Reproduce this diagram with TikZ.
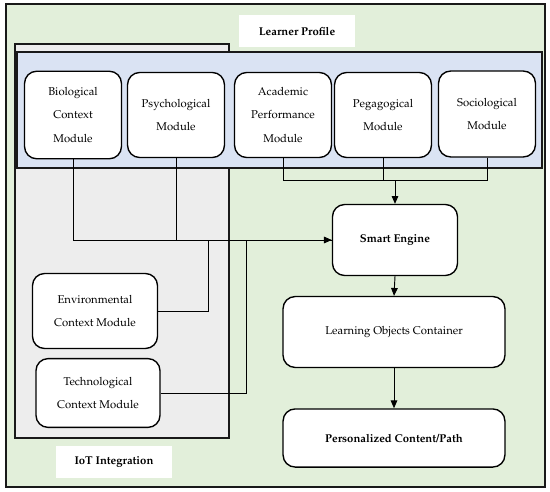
\documentclass[tikz,border=0pt]{standalone}
\usepackage[T1]{fontenc}
\usepackage{mathpazo}
\usetikzlibrary{arrows.meta, positioning, calc}
\usepackage{xcolor}

\definecolor{lpgreen}{HTML}{E2EFDA}
\definecolor{lpblue}{HTML}{DAE3F3}
\definecolor{iotgray}{HTML}{EDEDED}

\tikzset{
  module/.style={draw=black, line width=1.25pt, fill=white, rounded corners=11pt,
    align=center, inner sep=2pt, font=\fontsize{10.3}{21.5}\selectfont},
  panel/.style={draw=black!90, line width=1.6pt},
  tag/.style={fill=white, inner sep=0pt, minimum width=3.74cm, minimum height=1.05cm,
    font=\bfseries\fontsize{10.3}{12}\selectfont},
  link/.style={line width=0.75pt},
  flow/.style={line width=0.85pt, -{Triangle[length=2.5mm,width=2.1mm]}}
}

\begin{document}
\begin{tikzpicture}[x=0.032cm, y=-0.032cm]
\useasboundingbox (0,0) rectangle (550,492);

% -------- Background panels --------
\draw[panel, fill=lpgreen] (6,4) rectangle (545,487);
\draw[panel, fill=iotgray] (15,44) rectangle (229,438);
\draw[panel, fill=lpblue] (17,52) rectangle (542,168);

% -------- Panel titles --------
\node[tag] (profile) at (297,31) {Learner Profile};
\node[tag] (iot) at (114,462) {IoT Integration};

% -------- Learner profile modules --------
\node[module, minimum width=3.1cm, minimum height=2.8cm] (bio) at (73,115)
{Biological\\Context\\Module};
\node[module, minimum width=3.1cm, minimum height=2.72cm] (psych) at (176,115)
{Psychological\\Module};
\node[module, minimum width=3.1cm, minimum height=2.72cm] (acad) at (283,115)
{Academic\\Performance\\Module};
\node[module, minimum width=3.1cm, minimum height=2.72cm] (peda) at (383,115)
{Pegagogical\\Module};
\node[module, minimum width=3.1cm, minimum height=2.75cm] (socio) at (487,114)
{Sociological\\Module};

% -------- IoT modules --------
\node[module, minimum width=4cm, minimum height=2.4cm] (env) at (95,311)
{Environmental\\Context Module};
\node[module, minimum width=3.97cm, minimum height=2.2cm] (tech) at (98,393)
{Technological\\Context Module};

% -------- Engine and outputs --------
\node[module, minimum width=4cm, minimum height=2.27cm, font=\bfseries\fontsize{10.3}{12}\selectfont] (engine) at (395,240)
{Smart Engine};
\node[module, minimum width=7.1cm, minimum height=2.27cm] (loc) at (394,332)
{Learning Objects Container};
\node[module, minimum width=7.1cm, minimum height=1.86cm, font=\bfseries\fontsize{10.3}{12}\selectfont] (path) at (394,438)
{Personalized Content/Path};

% -------- Connectors --------
\coordinate (merge) at (engine.north |- 0,180);
\coordinate (envup) at (208,0 |- engine.west);
\coordinate (techup) at (246,0 |- engine.west);

\draw[link] (acad.south) |- (merge);
\draw[link] (peda.south) |- (merge);
\draw[link] (socio.south) |- (merge);
\draw[flow] (merge) -- (engine.north);

\draw[link] (psych.south) |- (engine.west);
\draw[link] (env.east) -| (envup);
\draw[link] (tech.east) -| (techup);
\draw[flow] (bio.south) |- (engine.west);

\draw[flow] (engine.south) -- (loc.north);
\draw[flow] (loc.south) -- (path.north);

\end{tikzpicture}
\end{document}
